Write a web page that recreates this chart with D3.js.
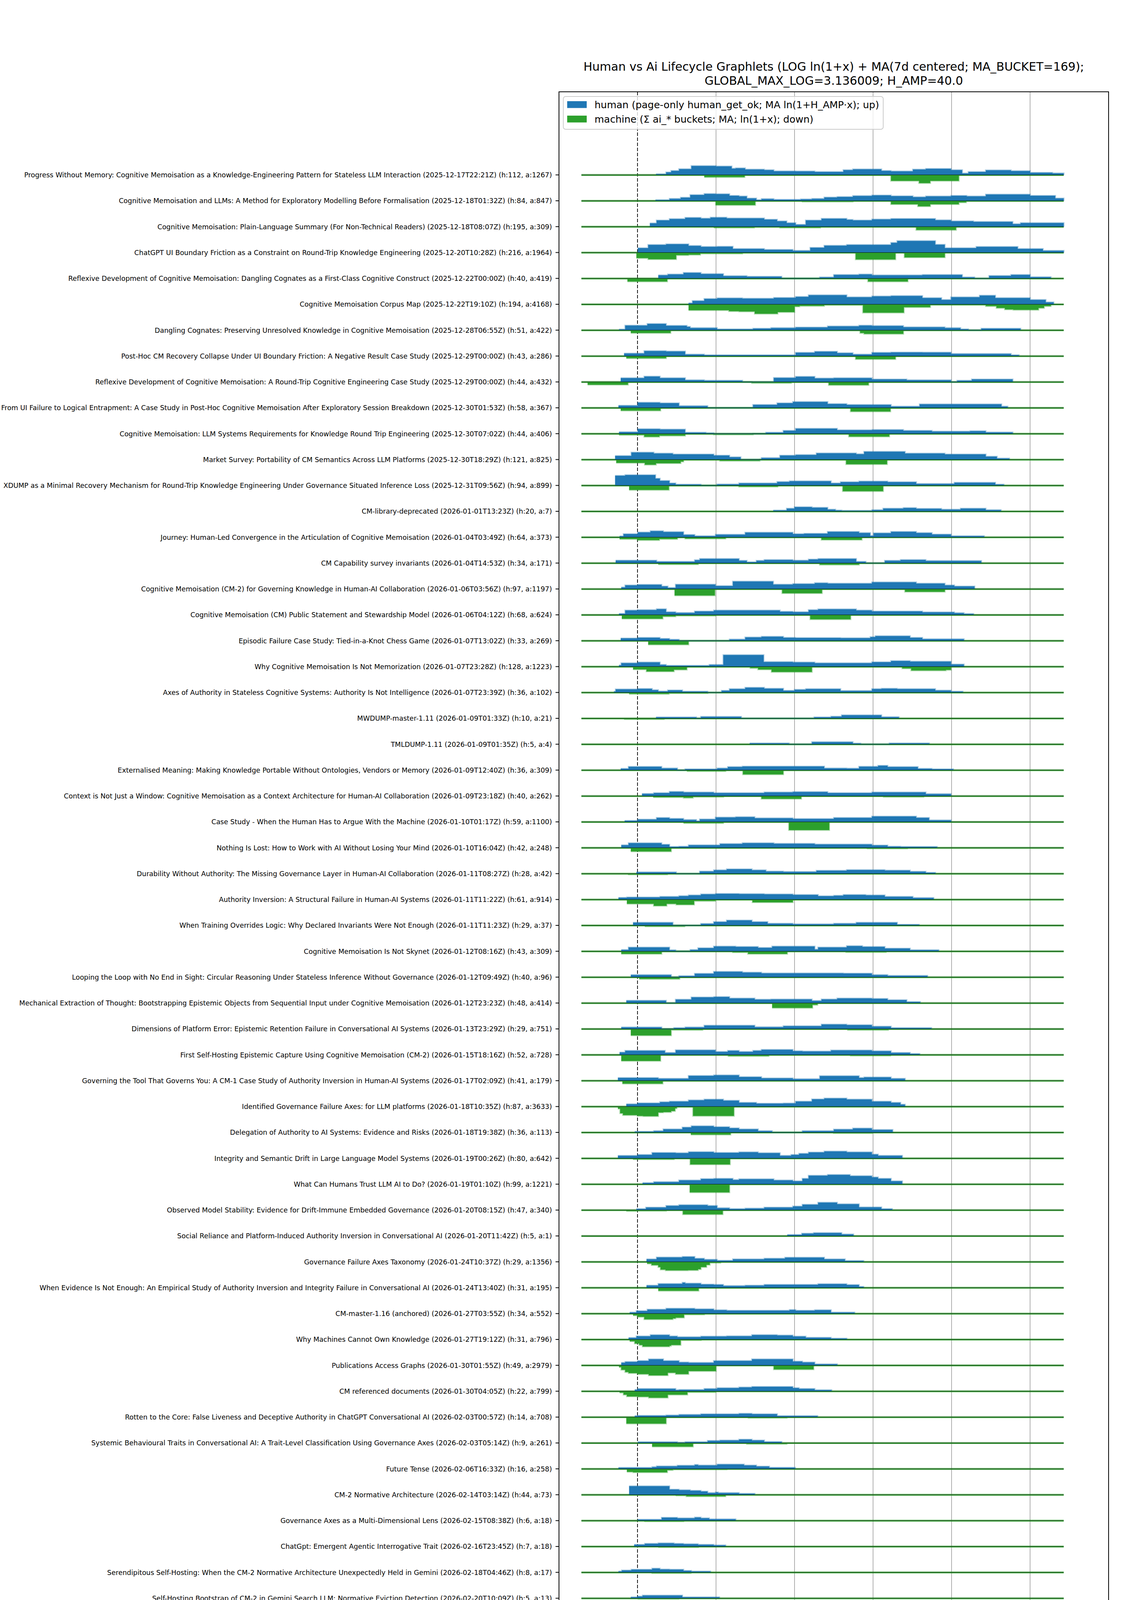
<!DOCTYPE html>
<html><head><meta charset="utf-8">
<script src="https://cdn.jsdelivr.net/npm/d3@7"></script>
<style>body{margin:0;background:#fff} svg{display:block} text{font-family:"DejaVu Sans",sans-serif;fill:#000}</style>
</head><body><svg id="c" width="2880" height="4698"></svg>
<script>
const ROW_LABELS = [
"Progress Without Memory: Cognitive Memoisation as a Knowledge-Engineering Pattern for Stateless LLM Interaction (2025-12-17T22:21Z) (h:112, a:1267)",
"Cognitive Memoisation and LLMs: A Method for Exploratory Modelling Before Formalisation (2025-12-18T01:32Z) (h:84, a:847)",
"Cognitive Memoisation: Plain-Language Summary (For Non-Technical Readers) (2025-12-18T08:07Z) (h:195, a:309)",
"ChatGPT UI Boundary Friction as a Constraint on Round-Trip Knowledge Engineering (2025-12-20T10:28Z) (h:216, a:1964)",
"Reflexive Development of Cognitive Memoisation: Dangling Cognates as a First-Class Cognitive Construct (2025-12-22T00:00Z) (h:40, a:419)",
"Cognitive Memoisation Corpus Map (2025-12-22T19:10Z) (h:194, a:4168)",
"Dangling Cognates: Preserving Unresolved Knowledge in Cognitive Memoisation (2025-12-28T06:55Z) (h:51, a:422)",
"Post-Hoc CM Recovery Collapse Under UI Boundary Friction: A Negative Result Case Study (2025-12-29T00:00Z) (h:43, a:286)",
"Reflexive Development of Cognitive Memoisation: A Round-Trip Cognitive Engineering Case Study (2025-12-29T00:00Z) (h:44, a:432)",
"From UI Failure to Logical Entrapment: A Case Study in Post-Hoc Cognitive Memoisation After Exploratory Session Breakdown (2025-12-30T01:53Z) (h:58, a:367)",
"Cognitive Memoisation: LLM Systems Requirements for Knowledge Round Trip Engineering (2025-12-30T07:02Z) (h:44, a:406)",
"Market Survey: Portability of CM Semantics Across LLM Platforms (2025-12-30T18:29Z) (h:121, a:825)",
"XDUMP as a Minimal Recovery Mechanism for Round-Trip Knowledge Engineering Under Governance Situated Inference Loss (2025-12-31T09:56Z) (h:94, a:899)",
"CM-library-deprecated (2026-01-01T13:23Z) (h:20, a:7)",
"Journey: Human-Led Convergence in the Articulation of Cognitive Memoisation (2026-01-04T03:49Z) (h:64, a:373)",
"CM Capability survey invariants (2026-01-04T14:53Z) (h:34, a:171)",
"Cognitive Memoisation (CM-2) for Governing Knowledge in Human-AI Collaboration (2026-01-06T03:56Z) (h:97, a:1197)",
"Cognitive Memoisation (CM) Public Statement and Stewardship Model (2026-01-06T04:12Z) (h:68, a:624)",
"Episodic Failure Case Study: Tied-in-a-Knot Chess Game (2026-01-07T13:02Z) (h:33, a:269)",
"Why Cognitive Memoisation Is Not Memorization (2026-01-07T23:28Z) (h:128, a:1223)",
"Axes of Authority in Stateless Cognitive Systems: Authority Is Not Intelligence (2026-01-07T23:39Z) (h:36, a:102)",
"MWDUMP-master-1.11 (2026-01-09T01:33Z) (h:10, a:21)",
"TMLDUMP-1.11 (2026-01-09T01:35Z) (h:5, a:4)",
"Externalised Meaning: Making Knowledge Portable Without Ontologies, Vendors or Memory (2026-01-09T12:40Z) (h:36, a:309)",
"Context is Not Just a Window: Cognitive Memoisation as a Context Architecture for Human-AI Collaboration (2026-01-09T23:18Z) (h:40, a:262)",
"Case Study - When the Human Has to Argue With the Machine (2026-01-10T01:17Z) (h:59, a:1100)",
"Nothing Is Lost: How to Work with AI Without Losing Your Mind (2026-01-10T16:04Z) (h:42, a:248)",
"Durability Without Authority: The Missing Governance Layer in Human-AI Collaboration (2026-01-11T08:27Z) (h:28, a:42)",
"Authority Inversion: A Structural Failure in Human-AI Systems (2026-01-11T11:22Z) (h:61, a:914)",
"When Training Overrides Logic: Why Declared Invariants Were Not Enough (2026-01-11T11:23Z) (h:29, a:37)",
"Cognitive Memoisation Is Not Skynet (2026-01-12T08:16Z) (h:43, a:309)",
"Looping the Loop with No End in Sight: Circular Reasoning Under Stateless Inference Without Governance (2026-01-12T09:49Z) (h:40, a:96)",
"Mechanical Extraction of Thought: Bootstrapping Epistemic Objects from Sequential Input under Cognitive Memoisation (2026-01-12T23:23Z) (h:48, a:414)",
"Dimensions of Platform Error: Epistemic Retention Failure in Conversational AI Systems (2026-01-13T23:29Z) (h:29, a:751)",
"First Self-Hosting Epistemic Capture Using Cognitive Memoisation (CM-2) (2026-01-15T18:16Z) (h:52, a:728)",
"Governing the Tool That Governs You: A CM-1 Case Study of Authority Inversion in Human-AI Systems (2026-01-17T02:09Z) (h:41, a:179)",
"Identified Governance Failure Axes: for LLM platforms (2026-01-18T10:35Z) (h:87, a:3633)",
"Delegation of Authority to AI Systems: Evidence and Risks (2026-01-18T19:38Z) (h:36, a:113)",
"Integrity and Semantic Drift in Large Language Model Systems (2026-01-19T00:26Z) (h:80, a:642)",
"What Can Humans Trust LLM AI to Do? (2026-01-19T01:10Z) (h:99, a:1221)",
"Observed Model Stability: Evidence for Drift-Immune Embedded Governance (2026-01-20T08:15Z) (h:47, a:340)",
"Social Reliance and Platform-Induced Authority Inversion in Conversational AI (2026-01-20T11:42Z) (h:5, a:1)",
"Governance Failure Axes Taxonomy (2026-01-24T10:37Z) (h:29, a:1356)",
"When Evidence Is Not Enough: An Empirical Study of Authority Inversion and Integrity Failure in Conversational AI (2026-01-24T13:40Z) (h:31, a:195)",
"CM-master-1.16 (anchored) (2026-01-27T03:55Z) (h:34, a:552)",
"Why Machines Cannot Own Knowledge (2026-01-27T19:12Z) (h:31, a:796)",
"Publications Access Graphs (2026-01-30T01:55Z) (h:49, a:2979)",
"CM referenced documents (2026-01-30T04:05Z) (h:22, a:799)",
"Rotten to the Core: False Liveness and Deceptive Authority in ChatGPT Conversational AI (2026-02-03T00:57Z) (h:14, a:708)",
"Systemic Behavioural Traits in Conversational AI: A Trait-Level Classification Using Governance Axes (2026-02-03T05:14Z) (h:9, a:261)",
"Future Tense (2026-02-06T16:33Z) (h:16, a:258)",
"CM-2 Normative Architecture (2026-02-14T03:14Z) (h:44, a:73)",
"Governance Axes as a Multi-Dimensional Lens (2026-02-15T08:38Z) (h:6, a:18)",
"ChatGpt: Emergent Agentic Interrogative Trait (2026-02-16T23:45Z) (h:7, a:18)",
"Serendipitous Self-Hosting: When the CM-2 Normative Architecture Unexpectedly Held in Gemini (2026-02-18T04:46Z) (h:8, a:17)",
"Self-Hosting Bootstrap of CM-2 in Gemini Search LLM: Normative Eviction Detection (2026-02-20T10:09Z) (h:5, a:13)",
"Telemetry-Induced Constraint Salience: An Empirical Study in LLM Behavioural Compliance (2026-02-23T08:35Z) (h:7, a:15)",
"Transcript of a Session with Gemini Search - and I feel like Alice in Wonderland (2026-02-24T07:06Z) (h:2, a:31)"
];

// human series: [dayRelative, MA ln(1+H_AMP*x)] step points (value held until next point)
const HUMAN_SERIES = [
[[3.3,0.2],[5.1,0.7],[6,1.1],[7.4,1.55],[9.6,2.4],[14,2.3],[16.8,1.7],[17.5,1.8],[19.2,1.45],[22.6,1.3],[24.3,1.0],[28.2,0.95],[31.6,0.8],[36.7,1.3],[38.4,1.5],[43.5,1.1],[45.2,0.95],[49.1,1.45],[51.4,1.65],[55.9,1.3],[57.9,0.4],[59,0.8],[62.1,1.25],[66.6,1.05],[70,0.6],[74,0.45],[76,0]],
[[3.2,0.2],[5.7,0.55],[7.7,0.85],[9.4,1.55],[11.9,1.85],[13.9,1.8],[16.4,1.35],[18.1,1.2],[19.5,0.65],[21.2,0.2],[22.1,0.5],[24.3,0.3],[29.1,0.4],[31.1,0.55],[33.3,0.9],[35.6,1.05],[38.4,1.3],[41.8,1.45],[45.2,1.25],[49.1,1.0],[51.4,1.2],[55.9,1.35],[58.7,1.2],[62.1,1.7],[70,1.35],[74.5,0.65],[76,0]],
[[2.2,0.9],[3.4,1.7],[5.7,2.05],[8.5,2.4],[11.3,2.2],[13,2.45],[15.9,2.25],[22.6,1.9],[24.9,1.45],[26.6,1.0],[28.2,0.55],[30,1.7],[32.8,2.15],[37.3,1.85],[38.4,1.7],[41.8,1.95],[45.2,2.1],[53.1,1.75],[55.9,1.45],[59.9,1.3],[66.9,0.7],[68.3,1.0],[76,0]],
[[0.05,1.2],[1.9,2.05],[5.1,2.25],[9.1,1.8],[11.3,1.55],[14.2,1.6],[17,1.0],[22.6,0.75],[27.7,0.5],[30.8,1.3],[33.3,1.85],[37.3,2.05],[45.2,2.6],[46.3,3.1],[53.1,2.1],[54.8,1.2],[60.4,1.55],[67.8,1.0],[72.3,0.5],[76,0]],
[[3.7,0.85],[5.4,1.1],[8.2,1.5],[11.3,1.2],[15.3,0.65],[19.5,0.5],[25.7,0],[32.5,0.3],[35,0.95],[39.5,1.1],[41.8,0.85],[50.8,0.95],[57.9,0.3],[60.1,0],[62.7,0.7],[66.6,0.95],[70,0.35],[73.7,0]],
[[9.1,0.3],[9.8,0.9],[11.9,1.45],[14.2,1.65],[18.7,1.55],[24.3,1.75],[28.2,2.0],[30.5,2.45],[37.3,1.9],[41.8,2.15],[45.2,2.25],[50.8,1.7],[54.2,1.2],[55.9,1.9],[61,2.35],[63.8,1.7],[70,1.2],[72.8,0.55],[74.2,0]],
[[-3.3,0.2],[-2.2,1.25],[1.75,1.7],[5.1,1.2],[8.8,0.9],[9.4,0.6],[14.2,0.25],[20.6,0.45],[23.8,0.6],[28.2,0.75],[33.9,1.05],[39.5,1.25],[41.8,1.15],[47.4,0.8],[54.8,0.6],[57.6,0.25],[59,0],[61.3,0.45],[68.3,0]],
[[-2.4,0.7],[1.2,1.35],[5.1,1.25],[8.5,0.45],[11.9,0.25],[28.2,0.9],[31.6,1.2],[35.6,0.8],[38.4,0.45],[41.8,0.9],[45.2,1.0],[50.8,0.95],[55.9,0.6],[66.6,0.25],[68,0]],
[[-3,1.05],[1.2,1.45],[4,1.05],[8.5,0.5],[11.9,0.35],[18.7,0],[24.3,1.1],[28.2,1.4],[31.6,0.95],[35,1.05],[41.8,0.7],[48,0.5],[55.9,0],[57,0.35],[59.6,0.7],[66.9,0]],
[[-3.4,0.6],[0.05,1.4],[4,1.25],[7.4,0.5],[12.5,0],[20.6,0.8],[24.9,1.25],[27.7,1.6],[33.9,1.05],[37.3,0.8],[45.2,0.35],[50.3,0.95],[64.9,0.35],[66,0]],
[[-3.3,0.45],[0.05,1.25],[4,1.15],[8.5,0.3],[12.2,0.15],[13.6,0],[22.9,0.3],[26,0.8],[28.2,1.35],[35.6,0.95],[41.8,1.05],[47.4,0.8],[52.5,0.6],[59.3,0.7],[62.1,0.35],[66.9,0]],
[[-4,1.0],[-1.1,1.9],[2.9,1.65],[6.3,1.4],[13.6,1.1],[16.4,0.65],[18.4,0],[22.1,0.45],[25.4,1.1],[28.2,1.25],[31.9,1.7],[39,1.45],[40.4,2.1],[47.7,1.65],[54.8,1.4],[62.1,0.8],[64.1,0.3],[66.3,0]],
[[-4,2.6],[-2.2,2.8],[3.2,1.85],[4,1.25],[5.7,0.6],[6.8,0.25],[11.3,0],[14.2,0.3],[18.1,0.6],[24.9,0.95],[27.1,1.15],[34.5,0.6],[36.2,0.9],[39.5,1.1],[44.6,0.9],[49.7,0.45],[56.5,0.75],[63.8,0.25],[65.3,0]],
[[24.2,0.25],[26.6,0.75],[28,1.15],[31.1,1.0],[33.9,0.5],[35.3,0.25],[36.4,0.15],[41.8,0.35],[43.8,0.75],[47.4,0.9],[49.7,0.7],[54.2,0.5],[57.6,0.75],[62.1,0.35],[64.8,0]],
[[-3.2,0.25],[-2.5,0.85],[0.05,1.3],[2.3,1.65],[4.6,1.4],[8.2,0.65],[10.2,0.3],[13.9,0.7],[19.2,1.25],[27.7,0.85],[29.7,0.95],[33.9,1.45],[39.5,1.15],[41.5,0.4],[42.1,1.1],[45.2,1.45],[49.7,1.15],[52.5,0.75],[55.9,0.3],[61.8,0]],
[[-3.9,0.7],[3.4,0.4],[10.2,0.8],[11.1,1.15],[18.1,0.65],[19.5,0.25],[21.2,0.65],[22.6,0.85],[27.7,0.7],[30.5,1.0],[32.2,1.15],[39,0.4],[40.7,0],[44.1,0.65],[46.9,0.85],[51.4,0.6],[61.3,0]],
[[-2.9,0.45],[-2.2,1.0],[0.05,1.15],[4.3,0.7],[5.4,0.3],[6.8,1.2],[13.9,0.8],[17,2.0],[24.2,1.2],[27.7,1.35],[31.6,1.6],[33.9,1.45],[41.8,1.8],[49.7,1.45],[54.8,1.0],[56.5,0.7],[60.1,0]],
[[-3.3,0.3],[-2.2,1.2],[0.05,1.3],[3.4,1.55],[5.1,0.75],[6.8,0.55],[10.2,0.95],[13.6,1.2],[25.4,0.85],[27.7,0.75],[30.5,1.3],[32.2,1.5],[39,1.2],[41.8,0.95],[50.8,0.7],[56.5,0.5],[58.2,0.25],[59.9,0]],
[[-3,0.65],[0.05,0.8],[4,0.55],[5.7,0.3],[7.4,0],[16.4,0.35],[19.2,0.9],[22.1,1.1],[26,0.8],[28.2,0.75],[36.2,0.7],[41.5,1.0],[42.4,1.25],[48.6,0.8],[50.8,0.45],[58.2,0]],
[[-3.3,0.35],[-2.9,0.95],[0.05,1.15],[4,0.5],[5.1,0.25],[12.8,0.5],[15.3,3.1],[22.5,1.25],[27.7,1.15],[31.6,0.95],[41.8,1.2],[45.2,1.5],[48.6,1.35],[55.9,0.6],[58.2,0]],
[[-4.2,0.25],[-3.9,0.85],[0.05,1.0],[2.6,0.65],[3.7,0.3],[5.4,0.6],[8,0.25],[12.5,0],[15,0.5],[16.4,0.95],[19.2,1.3],[22.6,1.05],[26,0.5],[28,0.75],[30,0.95],[36.2,0.45],[41.8,0.95],[43.5,1.05],[46.3,0.95],[53.1,0.55],[55.9,0.25],[58,0]],
[[3.3,0.3],[10.5,0],[11.3,0.45],[18.5,0],[31.5,0.3],[34.5,0.5],[36.4,0.85],[43.5,0.35],[46.6,0]],
[[20,0.25],[27,0],[31.1,0.6],[38.4,0.2],[39.8,0],[44.9,0.25],[52,0]],
[[-3,0.4],[-1.6,0.9],[4.3,0.5],[7.1,0],[8.5,0.25],[14.2,0.5],[16.1,0.85],[18.7,1.0],[33.3,0.5],[37.3,0.45],[39.5,0.95],[42.9,1.2],[44.6,0.85],[50,0.4],[52.5,0.25],[56.3,0]],
[[0.8,0.6],[2.9,0.8],[5.7,1.15],[8.2,1.0],[13.6,0.8],[22.6,1.0],[27.7,1.1],[33.9,0.8],[41.8,1.0],[51.4,0.55],[55.9,0]],
[[-2.3,0.3],[0.05,0.65],[3.4,1.1],[5.7,0.85],[8.2,0.55],[10.5,0.2],[11.1,0.7],[13.9,1.2],[17.5,1.3],[20.9,1.0],[27.7,0.8],[35,1.1],[41.8,1.45],[49.7,1.1],[52,0.45],[55.9,0]],
[[-2.9,0.7],[-1.6,1.25],[4.3,0.85],[5.7,0.25],[7.4,0.35],[9.1,0.7],[14.7,1.05],[18.7,1.25],[24.3,1.1],[31.6,0.9],[41.8,0.65],[44.6,0.35],[46.9,0.25],[53.4,0]],
[[-0.2,0.4],[6.9,0],[11.1,0.6],[13.6,0.95],[15.9,1.2],[20.4,0.95],[22.9,0.6],[26,0.5],[31.9,0.8],[37.3,1.0],[44.1,0.85],[48.6,0.55],[51.4,0.25],[53.1,0]],
[[-3.4,0.5],[-1.9,0.6],[4,0.75],[7.4,0.95],[9.1,1.15],[11.3,1.4],[13.9,1.55],[18.1,1.5],[22.6,1.4],[27.7,1.25],[32.2,0.9],[35,1.05],[36.7,1.25],[40.7,1.15],[44.1,0.75],[49.1,0.45],[52.8,0]],
[[-0.8,0.75],[6.3,0],[11.3,0.45],[13.6,0.95],[15.9,1.35],[20.4,0.95],[23.2,0.5],[27.7,0.35],[35,0.5],[39,0.75],[46.3,0.2],[50.2,0]],
[[-2.9,0.4],[-1.6,1.05],[5.7,0.3],[6.8,0],[9.4,0.4],[10.8,0.85],[13.6,1.3],[17.5,1.2],[21.5,0.95],[24,1.3],[31.6,0.5],[32.2,1.05],[37.3,1.4],[40.1,1.2],[44.1,0.75],[48.6,0.35],[53.7,0]],
[[-1.2,0.6],[6,0],[7.4,0.3],[10.2,0.95],[13.6,1.45],[18.7,1.25],[22.1,1.05],[36.7,1.0],[41.8,0.6],[44.6,0.4],[51.7,0]],
[[-2,0.65],[5.1,0],[6.8,0.95],[9.6,1.55],[13.6,1.65],[16.4,1.25],[20.9,0.95],[23.8,1.0],[31.1,0.6],[32.8,1.0],[35.6,1.25],[41.8,1.15],[44.6,0.8],[48,0.3],[50.4,0]],
[[-2.9,0.45],[4.3,0],[6.5,0.25],[8.5,0.45],[11.9,0.9],[20.9,0.5],[26,0.75],[32.8,1.2],[37.3,1.05],[41.8,0.65],[45.2,0.25],[52.4,0]],
[[-3.2,0.65],[-2.2,1.1],[4.9,0.55],[6.8,1.25],[13.9,0.8],[16.1,1.1],[18.1,0.8],[20.6,1.1],[22.1,1.35],[27.7,1.0],[29.4,0.9],[34.5,1.2],[41.8,1.0],[45.2,0.55],[48.6,0.25],[50.3,0]],
[[-3.5,0.75],[3.7,0.55],[9.1,1.3],[13.6,1.45],[18.1,1.0],[22.1,0.65],[27.7,0.45],[32.5,1.25],[39.5,0.75],[40.4,0.9],[45.2,0.55],[47.7,0]],
[[-2,0.65],[0.05,0.9],[4,1.2],[5.7,1.35],[9.1,1.7],[11.9,1.9],[15.3,1.6],[18.1,1.05],[21.2,0.8],[26,0.85],[28.2,1.35],[31.1,1.95],[33.3,2.2],[37.3,1.9],[41.8,1.35],[45.2,1.05],[46.9,0.55],[47.7,0]],
[[-0.5,0.2],[2.9,0.4],[4.6,0.85],[8,1.35],[9.6,1.7],[13.6,1.45],[16.4,1.15],[18.1,0.85],[21.5,0.4],[24,0],[29.4,0.4],[35,0.8],[38.4,1.1],[41.8,0.7],[45.5,0]],
[[-3.5,0.7],[0.05,0.95],[2.6,1.5],[6.8,1.4],[9.1,1.7],[13.6,1.5],[18.1,1.65],[21.5,1.4],[25.4,0.7],[27.4,0.95],[28.8,1.25],[30.5,1.6],[33.3,1.85],[37.3,1.65],[41.8,1.05],[42.9,0.7],[47.2,0]],
[[0.9,0.35],[2.9,0.6],[7.4,1.05],[11.3,1.4],[13.6,1.5],[17,1.15],[18.1,1.35],[24.3,1.05],[27.7,0.8],[29.4,1.5],[30.5,2.3],[33.9,2.5],[37.9,2.2],[41.8,1.85],[42.9,1.5],[45.2,0.8],[47.2,0]],
[[-0.2,0.3],[1.5,0.7],[5.1,1.15],[7.4,1.35],[12.5,1.15],[14.2,0.55],[16.4,0.3],[19.2,0.45],[22.6,0.7],[27.7,1.0],[29.4,1.45],[32.2,2.0],[35.6,1.6],[39.5,0.75],[43.5,0.3],[45.4,0]],
[[26.7,0.3],[29.3,0.65],[31.4,0.8],[36.4,0.45],[38.5,0]],
[[1.6,0.7],[3.4,1.2],[8,1.35],[10.2,0.9],[11.9,0.6],[14.2,0.35],[17,0.7],[22.6,0.9],[26.3,1.15],[33.3,0.7],[37,0.25],[40.3,0]],
[[1.6,0.6],[3.7,1.05],[8,1.35],[8.5,1.15],[11.3,0.9],[13.6,0.8],[15.3,0.5],[19.2,0.6],[22.6,0.8],[32.2,1.0],[37.3,0.75],[39.5,0.25],[40.3,0]],
[[-1.4,0.3],[-0.2,0.7],[1.75,1.1],[5.1,1.35],[10.2,1.2],[13.6,0.95],[15.9,0.8],[27.1,1.0],[28.2,0.8],[31.6,0.95],[34.5,0.3],[38.7,0]],
[[-1.6,0.45],[-0.2,0.85],[2.3,1.2],[5.7,0.85],[7.1,0.65],[11.3,0.8],[15.9,0.9],[20.4,1.2],[24.9,1.1],[27.7,0.8],[30,0.5],[34.5,0.25],[37.3,0]],
[[-2.9,0.7],[-2.2,0.95],[0.05,1.2],[2,1.65],[4.6,1.2],[7.4,0.8],[9.1,0.7],[13.6,1.2],[20.4,1.65],[27.7,1.05],[29.4,0.8],[31.6,0.3],[35.6,0]],
[[-0.5,0.4],[0.05,0.65],[6.8,0.3],[7.4,0.4],[11.9,0.65],[14.2,0.85],[18.1,1.05],[20.4,1.2],[27.7,0.85],[28.8,0.65],[31.6,0.3],[34.6,0]],
[[-0.5,0.3],[0.05,0.4],[5.1,0.5],[7.4,0.65],[11.3,0.8],[18.1,0.95],[20.4,0.8],[24.9,0.3],[32.1,0]],
[[0.05,0.25],[7.1,0.1],[8.5,0.25],[12.5,0.6],[14.7,0.7],[18.1,0.95],[20.4,0.7],[22.6,0.3],[25.7,0]],
[[-3.4,0.3],[2.6,0.5],[3.4,0.7],[7.1,0.9],[10.2,1.1],[10.8,0.95],[14.2,1.2],[19,0.95],[21.2,0.65],[23.5,0.35],[28.1,0]],
[[-1.5,2.3],[5.7,1.4],[7.4,1.25],[9.4,1.1],[11.3,0.9],[12.5,0.5],[13.9,0.65],[14.4,0.5],[18.1,0.3],[20.9,0]],
[[0.05,0.3],[4.3,0.8],[7.1,0.65],[10.2,0.85],[11.3,0.65],[12.8,0.4],[17.5,0]],
[[-0.6,0.5],[1.3,0.75],[3.7,0.9],[6.5,0.75],[8.2,0.65],[10.8,0.5],[13.6,0.35],[15.7,0]],
[[-3.4,0.25],[-2.8,0.55],[-1.1,0.75],[2.6,1.05],[4,0.8],[5.7,0.75],[8.2,0.45],[9.6,0.25],[13,0]],
[[-1.2,0.3],[0.05,0.5],[0.9,0.75],[8,0.3],[14.6,0]],
[[-2.6,0.85],[-1.5,1.05],[4.7,0.25],[5.6,0]],
[[-3.4,0.2],[-2.9,0.4],[3.6,0.2],[4.3,0]]
];

// machine series: [dayRelative, MA ln(1+x) of summed ai_* buckets] step points (drawn downward)
const MACHINE_SERIES = [
[[11.9,0.6],[19.1,0],[45.2,1.6],[50.2,2.2],[52.2,1.6],[57.3,0]],
[[13.9,1.15],[21.0,0],[29.4,0.25],[38.4,0],[45.2,0.95],[50,1.5],[52.2,0.95],[57.3,0.45],[58.6,0]],
[[13.6,0.3],[20.8,0],[25.4,0.3],[32.6,0],[49.7,0.9],[56.8,0]],
[[-0.2,1.5],[1.9,1.8],[6.9,0.7],[9.1,0.6],[11.2,0.3],[18.7,0],[38.9,1.85],[46.0,0],[47.6,1.3],[54.8,0]],
[[-1.8,0.85],[5.3,0],[41.1,0.85],[48.2,0]],
[[9.1,1.6],[16.3,1.85],[18.1,1.95],[20.9,2.55],[25.0,2.1],[28.0,0.6],[28.9,0.45],[33.3,0.2],[40.2,2.25],[47.5,0.8],[52.2,0.15],[62.1,0.5],[64.0,1.0],[65.5,1.4],[67,1.5],[70,1.5],[71.5,1.0],[72.5,0.5],[73.7,0]],
[[-1.2,0.75],[5.9,0],[39.7,0.75],[40.4,1.0],[47.4,0]],
[[-2.0,0.6],[5.1,0],[38.9,0.85],[46.0,0]],
[[-8.9,0.75],[-1.7,0],[20.4,0.3],[27.4,0],[34.1,0.85],[41.2,0]],
[[-3.0,0.75],[4.1,0],[38.0,1.0],[45.1,0]],
[[-3.3,0.35],[1.2,0.85],[3.9,0.55],[8.5,0],[13.6,0.25],[20.6,0],[37.7,0.8],[44.9,0]],
[[-3.8,0.9],[1.3,1.4],[3.3,1.0],[7.7,0.55],[8.2,0],[14.7,0.35],[21.8,0],[37.2,1.25],[44.5,0]],
[[-1.5,1.2],[5.6,0],[18.1,0.35],[25.0,0],[36.6,1.55],[43.8,0]],
[],
[[-3.2,0.5],[0,0.8],[3.9,0.5],[7.1,0],[8.5,0.4],[15.7,0],[32.8,0.7],[40.0,0]],
[[3.7,0.35],[10.8,0],[32.5,0.45],[39.5,0]],
[[6.6,1.75],[13.8,0],[25.8,1.15],[32.9,0],[47.7,0.75],[54.8,0]],
[[-2.8,1.05],[4.5,0.45],[6.8,0.25],[13.9,0],[30.8,1.2],[38.0,0]],
[[1.9,1.05],[9.1,0]],
[[-0.8,0.75],[1.6,1.3],[6.5,0.85],[8.8,0],[20.1,0.4],[21.5,0.8],[23.9,1.45],[31.1,0],[47.2,0.5],[48.8,1.05],[55.0,0.9],[55.9,0]],
[[-1.5,0.4],[5.6,0.2],[12.5,0]],
[[-2.4,0.25],[4.7,0]],
[],
[[8.8,0.3],[15.7,0],[18.8,1.15],[26.0,0]],
[[2.8,0.35],[8.2,0.5],[9.9,0.25],[15.3,0],[22.1,0.75],[29.2,0],[43.9,0.25],[51.0,0]],
[[8.2,0.35],[15.3,0],[27.0,2.2],[34.2,0]],
[[-1.2,1.0],[6.0,0],[41.0,0.2],[48.1,0]],
[[-1.7,0.25],[5.3,0]],
[[-1.9,1.15],[2.9,1.7],[5.2,1.15],[6.9,1.4],[10.1,0.4],[13.9,0],[20.5,0.75],[27.7,0]],
[[1.3,0.3],[8.4,0]],
[[-2.9,0.7],[4.3,0],[17.0,0.3],[19.7,0.7],[26.7,0],[37.2,0.25],[44.3,0]],
[[0.3,0.5],[7.5,0]],
[[24.0,1.3],[31.2,0.5],[32.1,0]],
[[-1.2,1.75],[6.0,0.3],[11.6,0],[37.5,0.3],[44.7,0]],
[[-2.9,1.65],[4.1,0],[16.2,0.35],[23.4,0],[38.0,0.25],[45.1,0]],
[[-2.7,0.8],[4.5,0]],
[[-3.5,0.6],[-3.1,1.8],[-2.6,2.3],[0,2.5],[1.0,2.6],[3.7,1.6],[4.6,1.5],[6.0,1.2],[6.7,0.5],[7.0,0],[9.9,2.5],[17.2,0]],
[[9.5,0.6],[16.6,0],[35.0,0.2],[41.8,0]],
[[-0.8,0.3],[6.5,0],[9.4,1.65],[16.5,0]],
[[9.3,2.2],[16.4,0]],
[[-2.0,0.25],[-0.2,0.2],[5.1,0],[8.1,1.15],[15.2,0]],
[],
[[1.7,0.5],[2.5,0.9],[3.7,1.4],[4.1,2.1],[5,2.3],[9,2.25],[10.8,2.0],[11.3,1.4],[12.3,0.8],[12.9,0.25],[14.8,0]],
[[3.7,0.85],[10.9,0]],
[[-0.8,0.5],[0,0.9],[1.2,1.55],[6.3,1.3],[6.8,1.1],[8.3,0.25],[11.9,0]],
[[-1.4,0.5],[-0.5,1.1],[0.3,1.5],[0.9,1.9],[5.7,1.7],[6.0,1.5],[7.7,0.2],[11.3,0]],
[[-3.3,0.5],[-2.9,1.2],[-2.2,1.8],[-1.6,2.1],[0,2.35],[2.0,2.7],[5.4,2.0],[6.8,2.35],[9.1,1.55],[14.0,0],[24.3,1.1],[31.4,0]],
[[-3.2,0.4],[-2.5,0.95],[-1.9,1.4],[0,1.5],[2.0,1.75],[5.4,0.95],[8.9,0.25],[13.9,0]],
[[-2.0,1.75],[5.1,0],[19.8,0.2],[26.6,0]],
[[2.6,1.0],[9.9,0],[19.5,0.25],[26.6,0]],
[[-1.9,0.8],[-0.8,0.95],[5.3,0.35],[6.3,0.15],[15.9,0]],
[[6.8,0.2],[8.7,0.45],[15.7,0]],
[[1.2,0.2],[8.2,0]],
[[3.7,0.2],[10.8,0]],
[[2.5,0.2],[9.5,0]],
[[0.05,0.15],[7.3,0]],
[[-2.6,0.15],[4.5,0]],
[[-1.5,0.25],[5.7,0]]
];

const X_TICKS = [-14, 0, 14, 28, 42, 56, 70, 84];
const X_MINOR_TICKS = [-7, 7, 21, 35, 49, 63, 77];
const X_DOMAIN = [-14, 84];
const BASE_SPAN = [-10, 76];
const GLOBAL_MAX_LOG = 3.136009;
const TITLE_LINES = ["Human vs Ai Lifecycle Graphlets (LOG ln(1+x) + MA(7d centered; MA_BUCKET=169);", "GLOBAL_MAX_LOG=3.136009; H_AMP=40.0"];
const LEGEND_ITEMS = [
  {label: "human (page-only human_get_ok; MA ln(1+H_AMP\u00b7x); up)", color: "#1f77b4"},
  {label: "machine (\u03a3 ai_* buckets; MA; ln(1+x); down)", color: "#2ca02c"}
];
const X_LABEL = "Days relative to publication (UTC/Z)";

const BLUE = "#1f77b4", GREEN = "#2ca02c";
const svg = d3.select("#c");
const AX = {left: 1431, right: 2838, top: 235, bottom: 4419};
const x = d3.scaleLinear().domain(X_DOMAIN).range([AX.left, AX.right]);
const y = d3.scaleLinear().domain([0, ROW_LABELS.length - 1]).range([447.7, 4224]);
const amp = d3.scaleLinear().domain([0, GLOBAL_MAX_LOG]).range([0, 30]);

svg.append("rect").attr("width", 2880).attr("height", 4698).attr("fill", "#fff");

// grid
const grid = svg.append("g");
X_TICKS.filter(t => t !== 0 && t !== X_DOMAIN[0] && t !== X_DOMAIN[1]).forEach(t => {
  grid.append("line").attr("x1", x(t)).attr("x2", x(t)).attr("y1", AX.top).attr("y2", AX.bottom)
    .attr("stroke", "#b0b0b0").attr("stroke-width", 2);
});
svg.append("line").attr("x1", x(0)).attr("x2", x(0)).attr("y1", AX.top).attr("y2", AX.bottom)
  .attr("stroke", "#000").attr("stroke-width", 1.8).attr("stroke-dasharray", "9,4");

const plot = svg.append("g");
ROW_LABELS.forEach((lab, i) => {
  const b = y(i);
  const g = plot.append("g");
  const area = d3.area().curve(d3.curveStepAfter).x(d => x(d[0])).y0(b);
  const line = d3.line().curve(d3.curveStepAfter).x(d => x(d[0]));
  const m = MACHINE_SERIES[i];
  const h = HUMAN_SERIES[i];
  g.append("path").datum([[BASE_SPAN[0], 0], [BASE_SPAN[1], 0]])
    .attr("d", line.y(() => b)).attr("stroke", GREEN).attr("stroke-opacity", 0.35).attr("stroke-width", 6).attr("fill", "none");
  if (m.length) {
    g.append("path").datum(m).attr("d", line.y(d => b + amp(d[1])))
      .attr("stroke", GREEN).attr("stroke-opacity", 0.35).attr("stroke-width", 4).attr("fill", "none");
    g.append("path").datum(m).attr("d", area.y1(d => b + amp(d[1]))).attr("fill", GREEN);
  }
  g.append("line").attr("x1", x(BASE_SPAN[0])).attr("x2", x(BASE_SPAN[1])).attr("y1", b + 0.5).attr("y2", b + 0.5)
    .attr("stroke", GREEN).attr("stroke-width", 3);
  if (h.length) {
    g.append("path").datum(h).attr("d", line.y(d => b - amp(d[1])))
      .attr("stroke", BLUE).attr("stroke-opacity", 0.35).attr("stroke-width", 4).attr("fill", "none");
    g.append("path").datum(h).attr("d", area.y1(d => b - amp(d[1]))).attr("fill", BLUE);
  }
  g.append("line").attr("x1", x(BASE_SPAN[0])).attr("x2", x(BASE_SPAN[1])).attr("y1", b).attr("y2", b)
    .attr("stroke", "#000").attr("stroke-width", 1.1).attr("stroke-opacity", 0.85);
});

// axes frame
svg.append("rect").attr("x", AX.left).attr("y", AX.top).attr("width", AX.right - AX.left).attr("height", AX.bottom - AX.top)
  .attr("fill", "none").attr("stroke", "#000").attr("stroke-width", 2);

// y ticks & labels
const yg = svg.append("g");
ROW_LABELS.forEach((lab, i) => {
  yg.append("line").attr("x1", AX.left - 8.75).attr("x2", AX.left).attr("y1", y(i)).attr("y2", y(i)).attr("stroke", "#000").attr("stroke-width", 2);
  yg.append("text").attr("x", AX.left - 18).attr("y", y(i)).attr("dy", "0.36em").attr("text-anchor", "end")
    .attr("font-size", 17.5).text(lab);
});

// x ticks
const xg = svg.append("g");
X_TICKS.forEach(t => {
  xg.append("line").attr("x1", x(t)).attr("x2", x(t)).attr("y1", AX.bottom).attr("y2", AX.bottom + 8.75).attr("stroke", "#000").attr("stroke-width", 2);
  xg.append("text").attr("x", x(t)).attr("y", 4455).attr("text-anchor", "middle").attr("font-size", 25)
    .text(t < 0 ? "\u2212" + Math.abs(t) : String(t));
});
X_MINOR_TICKS.forEach(t => {
  xg.append("line").attr("x1", x(t)).attr("x2", x(t)).attr("y1", AX.bottom).attr("y2", AX.bottom + 5).attr("stroke", "#000").attr("stroke-width", 1.5);
});
svg.append("text").attr("x", (AX.left + AX.right) / 2).attr("y", 4488).attr("text-anchor", "middle").attr("font-size", 25).text(X_LABEL);

// title
TITLE_LINES.forEach((t, k) => {
  svg.append("text").attr("x", (AX.left + AX.right) / 2).attr("y", 181 + k * 36).attr("text-anchor", "middle").attr("font-size", 30).text(t);
});

// legend
const lg = svg.append("g");
lg.append("rect").attr("x", 1442).attr("y", 247).attr("width", 819).attr("height", 84).attr("rx", 6)
  .attr("fill", "#fff").attr("fill-opacity", 0.8).attr("stroke", "#cccccc").attr("stroke-width", 2);
LEGEND_ITEMS.forEach((it, k) => {
  const cy = 268 + k * 37;
  lg.append("rect").attr("x", 1452).attr("y", cy - 9).attr("width", 50).attr("height", 17.5).attr("fill", it.color);
  lg.append("text").attr("x", 1522).attr("y", cy).attr("dy", "0.36em").attr("font-size", 25).text(it.label);
});
</script></body></html>
